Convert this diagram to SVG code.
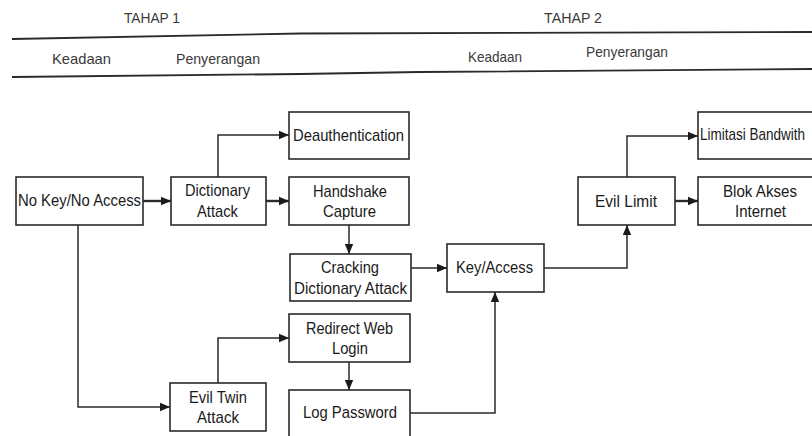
<svg xmlns="http://www.w3.org/2000/svg" width="812" height="436" viewBox="0 0 812 436">
  <style>
    .hdr { font-family: "Liberation Sans", Arial, sans-serif; fill: #3a3a3a; text-anchor: start; }
    .node rect { fill: #ffffff; stroke: #2a2a2a; stroke-width: 1.6; }
    .node text { font-family: "Liberation Sans", Arial, sans-serif; font-size: 17px; fill: #1a1a1a; }
    .rule { fill: none; stroke: #2a2a2a; stroke-width: 1.8; }
    .edge { fill: none; stroke: #2a2a2a; stroke-width: 1.5; marker-end: url(#arrow); }
    .edge.bold { stroke-width: 2.4; }
  </style>
  <defs>
    <marker id="arrow" markerUnits="userSpaceOnUse" markerWidth="10" markerHeight="10" viewBox="0 0 10 10" refX="10" refY="5" orient="auto">
      <path d="M0,0.8 L10,5 L0,9.2 Z" fill="#1a1a1a"/>
    </marker>
  </defs>

  <rect width="812" height="436" fill="#ffffff"/>

  <!-- header: stage titles and column labels -->
  <g id="header">
    <text class="hdr" x="124" y="23" font-size="14" textLength="56" lengthAdjust="spacingAndGlyphs">TAHAP 1</text>
    <text class="hdr" x="544" y="23" font-size="14" textLength="58" lengthAdjust="spacingAndGlyphs">TAHAP 2</text>
    <polyline class="rule" points="12,39 300,33.5 812,32"/>
    <text class="hdr" x="52" y="64" font-size="15" textLength="59" lengthAdjust="spacingAndGlyphs">Keadaan</text>
    <text class="hdr" x="176" y="64" font-size="15" textLength="84" lengthAdjust="spacingAndGlyphs">Penyerangan</text>
    <text class="hdr" x="468" y="62" font-size="15" textLength="54" lengthAdjust="spacingAndGlyphs">Keadaan</text>
    <text class="hdr" x="586" y="57" font-size="15" textLength="82" lengthAdjust="spacingAndGlyphs">Penyerangan</text>
    <polyline class="rule" points="12,77 300,74 420,72 812,69"/>
  </g>

  <!-- connectors -->
  <g id="connectors">
    <path class="edge bold" d="M143,201 H171"/>
    <path class="edge" d="M218,177 V135 H289"/>
    <path class="edge bold" d="M266,201 H289"/>
    <path class="edge" d="M349,225 V254"/>
    <path class="edge" d="M411,268 H447"/>
    <path class="edge" d="M78,225 V407 H170"/>
    <path class="edge" d="M218,383 V338 H289"/>
    <path class="edge" d="M349,362 V390"/>
    <path class="edge" d="M410,413 H495 V292"/>
    <path class="edge" d="M544,268 H627 V225"/>
    <path class="edge" d="M627,177 V136 H698"/>
    <path class="edge bold" d="M675,201 H698"/>
  </g>

  <!-- stage 1 nodes -->
  <g id="no-key" class="node">
    <rect x="16" y="177" width="127" height="48"/>
    <text x="18" y="206" textLength="123" lengthAdjust="spacingAndGlyphs">No Key/No Access</text>
  </g>
  <g id="dictionary-attack" class="node">
    <rect x="171" y="177" width="95" height="48"/>
    <text x="185" y="196" textLength="65" lengthAdjust="spacingAndGlyphs">Dictionary</text>
    <text x="197" y="217" textLength="41" lengthAdjust="spacingAndGlyphs">Attack</text>
  </g>
  <g id="deauthentication" class="node">
    <rect x="289" y="112" width="120" height="47"/>
    <text x="293" y="141" textLength="111" lengthAdjust="spacingAndGlyphs">Deauthentication</text>
  </g>
  <g id="handshake-capture" class="node">
    <rect x="289" y="177" width="120" height="48"/>
    <text x="313" y="197" textLength="74" lengthAdjust="spacingAndGlyphs">Handshake</text>
    <text x="323" y="217" textLength="53" lengthAdjust="spacingAndGlyphs">Capture</text>
  </g>
  <g id="cracking" class="node">
    <rect x="290" y="254" width="121" height="47"/>
    <text x="321" y="273" textLength="58" lengthAdjust="spacingAndGlyphs">Cracking</text>
    <text x="294" y="294" textLength="113" lengthAdjust="spacingAndGlyphs">Dictionary Attack</text>
  </g>
  <g id="redirect-web-login" class="node">
    <rect x="289" y="314" width="121" height="48"/>
    <text x="306" y="334" textLength="87" lengthAdjust="spacingAndGlyphs">Redirect Web</text>
    <text x="332" y="354" textLength="36" lengthAdjust="spacingAndGlyphs">Login</text>
  </g>
  <g id="evil-twin" class="node">
    <rect x="170" y="383" width="96" height="48"/>
    <text x="189" y="403" textLength="58" lengthAdjust="spacingAndGlyphs">Evil Twin</text>
    <text x="197" y="423" textLength="42" lengthAdjust="spacingAndGlyphs">Attack</text>
  </g>
  <g id="log-password" class="node">
    <rect x="289" y="390" width="121" height="50"/>
    <text x="303" y="418" textLength="94" lengthAdjust="spacingAndGlyphs">Log Password</text>
  </g>

  <!-- stage 2 nodes -->
  <g id="key-access" class="node">
    <rect x="447" y="244" width="97" height="48"/>
    <text x="456" y="273" textLength="77" lengthAdjust="spacingAndGlyphs">Key/Access</text>
  </g>
  <g id="evil-limit" class="node">
    <rect x="578" y="177" width="97" height="48"/>
    <text x="595" y="207" textLength="62" lengthAdjust="spacingAndGlyphs">Evil Limit</text>
  </g>
  <g id="limitasi-bandwith" class="node">
    <rect x="698" y="112" width="122" height="47"/>
    <text x="700" y="140" textLength="105" lengthAdjust="spacingAndGlyphs">Limitasi Bandwith</text>
  </g>
  <g id="blok-akses" class="node">
    <rect x="698" y="177" width="122" height="48"/>
    <text x="723" y="197" textLength="74" lengthAdjust="spacingAndGlyphs">Blok Akses</text>
    <text x="735" y="217" textLength="51" lengthAdjust="spacingAndGlyphs">Internet</text>
  </g>
</svg>
